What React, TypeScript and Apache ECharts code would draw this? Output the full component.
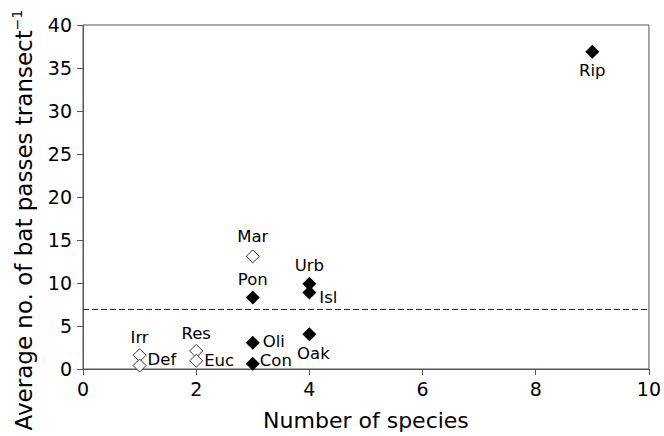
import React, { useEffect, useRef } from "react";
import * as echarts from "echarts";

const siteNames = ["Rip", "Mar", "Pon", "Urb", "Isl", "Oli", "Con", "Oak", "Irr", "Def", "Res", "Euc"];
const speciesCounts = [9, 3, 3, 4, 4, 3, 3, 4, 1, 1, 2, 2];
const batPasses = [36.9, 13.1, 8.3, 9.9, 8.9, 3.05, 0.6, 4.05, 1.6, 0.4, 2.1, 0.95];
const openMarker = [false, true, false, false, false, false, false, false, true, true, true, true];
const thresholdValue = 7.0;

const labelPlacement: Record<string, any> = {
  Rip: { position: "bottom", distance: 4 },
  Mar: { position: "top", distance: 5 },
  Pon: { position: "top", distance: 4 },
  Urb: { position: "top", distance: 4 },
  Isl: { position: "right", distance: 3, offset: [0, 5] },
  Oli: { position: "right", distance: 3, offset: [0, -1] },
  Con: { position: "right", distance: 0, offset: [0, -3] },
  Oak: { position: "bottom", distance: 5, offset: [4, 0] },
  Irr: { position: "top", distance: 3 },
  Def: { position: "right", distance: 1, offset: [0, -6] },
  Res: { position: "top", distance: 3 },
  Euc: { position: "right", distance: 1 },
};

const FONT = "'DejaVu Sans', Verdana, sans-serif";
const TEXT = "#000000";

function buildData(open: boolean) {
  const out: any[] = [];
  siteNames.forEach((n, i) => {
    if (openMarker[i] !== open) return;
    out.push({
      name: n,
      value: [speciesCounts[i], batPasses[i]],
      label: { show: true, formatter: n, ...labelPlacement[n] },
    });
  });
  return out;
}

export default function App() {
  const ref = useRef<HTMLDivElement>(null);
  useEffect(() => {
    if (!ref.current) return;
    const chart = echarts.init(ref.current, undefined, { renderer: "svg" });
    const labelStyle = { fontFamily: FONT, fontSize: 16.5, lineHeight: 15, color: TEXT };
    chart.setOption({
      animation: false,
      backgroundColor: "#ffffff",
      grid: {
        left: 83,
        right: 11,
        top: 25,
        bottom: 63.5,
        show: true,
        borderColor: "#555",
        borderWidth: 1,
        backgroundColor: "transparent",
      },
      xAxis: {
        type: "value",
        min: 0,
        max: 10,
        interval: 2,
        name: "Number of species",
        nameLocation: "middle",
        nameGap: 40,
        nameTextStyle: { fontFamily: FONT, fontSize: 22, color: TEXT },
        axisLine: { show: true, lineStyle: { color: "#555", width: 1 } },
        axisTick: { show: true, inside: false, length: 6, lineStyle: { color: "#555" } },
        axisLabel: { fontFamily: FONT, fontSize: 19, color: TEXT, margin: 10 },
        splitLine: { show: false },
      },
      yAxis: {
        type: "value",
        min: 0,
        max: 40,
        interval: 5,
        name: "{a|Average no. of bat passes transect}{b|−1}",
        nameLocation: "middle",
        nameGap: 46,
        nameTextStyle: {
          fontFamily: FONT,
          color: TEXT,
          padding: [0, 46, 0, 0],
          rich: {
            a: { fontFamily: FONT, fontSize: 23, color: TEXT, lineHeight: 27 },
            b: { fontFamily: FONT, fontSize: 14, color: TEXT, lineHeight: 15, verticalAlign: "top" },
          },
        },
        axisLine: { show: true, lineStyle: { color: "#555", width: 1 } },
        axisTick: { show: true, inside: false, length: 6, lineStyle: { color: "#555" } },
        axisLabel: { fontFamily: FONT, fontSize: 19, color: TEXT, margin: 11 },
        splitLine: { show: false },
      },
      series: [
        {
          type: "scatter",
          symbol: "diamond",
          symbolSize: 14,
          itemStyle: { color: "#000000", opacity: 1 },
          label: labelStyle,
          data: buildData(false),
          markLine: {
            silent: true,
            symbol: "none",
            label: { show: false },
            lineStyle: { color: "#222", width: 1, type: [6, 3] },
            data: [{ yAxis: thresholdValue }],
          },
          z: 3,
        },
        {
          type: "scatter",
          symbol: "diamond",
          symbolSize: 13,
          itemStyle: { color: "#ffffff", borderColor: "#333", borderWidth: 1, opacity: 1 },
          label: labelStyle,
          data: buildData(true),
          z: 3,
        },
      ],
    });
    return () => chart.dispose();
  }, []);
  return (
    <div
      ref={ref}
      style={{ position: "fixed", left: 0, top: 0, width: 664, height: 436, background: "#fff" }}
    />
  );
}
